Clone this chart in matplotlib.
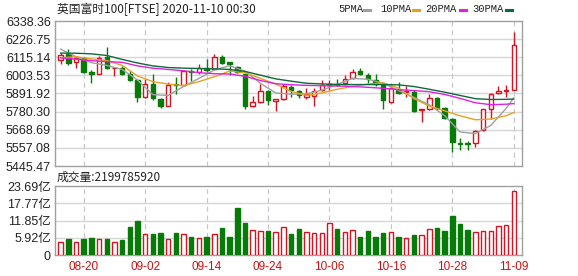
import matplotlib
matplotlib.use("Agg")
import matplotlib.pyplot as plt
from matplotlib.lines import Line2D

#%% data
dates = ['08-17', '08-18', '08-19', '08-20', '08-21', '08-24', '08-25', '08-26', '08-27', '08-28',
         '09-01', '09-02', '09-03', '09-04', '09-07', '09-08', '09-09', '09-10', '09-11', '09-14',
         '09-15', '09-16', '09-17', '09-18', '09-21', '09-22', '09-23', '09-24', '09-25', '09-28',
         '09-29', '09-30', '10-01', '10-02', '10-05', '10-06', '10-07', '10-08', '10-09', '10-12',
         '10-13', '10-14', '10-15', '10-16', '10-19', '10-20', '10-21', '10-22', '10-23', '10-26',
         '10-27', '10-28', '10-29', '10-30', '11-02', '11-03', '11-04', '11-05', '11-06', '11-09']

opens = [6096, 6134, 6088, 6110, 6022, 6014, 6114, 6046, 6052, 6012,
         5976, 5868, 5952, 5860, 5814, 5950, 5946, 6032, 6022, 6046,
         6042, 6114, 6086, 6056, 6010, 5818, 5842, 5908, 5846, 5858,
         5934, 5906, 5872, 5876, 5912, 5944, 5952, 5956, 5988, 6028,
         6008, 5978, 5946, 5838, 5916, 5904, 5900, 5790, 5794, 5864,
         5804, 5736, 5586, 5586, 5588, 5666, 5798, 5892, 5910, 5916]
highs = [6140, 6166, 6120, 6116, 6034, 6122, 6178, 6054, 6060, 6028,
         5980, 5980, 6012, 5866, 5962, 5992, 6034, 6042, 6072, 6102,
         6136, 6126, 6088, 6062, 6014, 5878, 5952, 5914, 5858, 5952,
         5942, 5916, 5926, 5926, 5978, 5978, 5982, 6008, 6044, 6050,
         6018, 6014, 5948, 5936, 5960, 5940, 5912, 5798, 5886, 5872,
         5810, 5738, 5620, 5600, 5670, 5798, 5892, 5940, 5946, 6268]
lows = [6074, 6070, 6052, 6016, 5958, 6012, 6040, 5998, 6004, 5966,
        5838, 5866, 5850, 5800, 5812, 5886, 5940, 5970, 6012, 6022,
        6038, 6074, 6008, 6016, 5796, 5810, 5836, 5820, 5786, 5850,
        5872, 5866, 5856, 5818, 5906, 5916, 5936, 5946, 5982, 6008,
        5954, 5940, 5798, 5834, 5886, 5872, 5776, 5714, 5790, 5790,
        5736, 5532, 5544, 5544, 5564, 5664, 5732, 5886, 5872, 5914]
closes = [6130, 6080, 6110, 6024, 6014, 6112, 6048, 6052, 6010, 5976,
          5872, 5950, 5862, 5812, 5946, 5944, 6028, 6022, 6046, 6038,
          6114, 6082, 6072, 6026, 5816, 5838, 5908, 5852, 5856, 5940,
          5914, 5882, 5890, 5910, 5946, 5950, 5946, 5982, 6024, 6014,
          5984, 5950, 5850, 5926, 5894, 5910, 5782, 5798, 5864, 5804,
          5742, 5592, 5582, 5580, 5660, 5794, 5890, 5910, 5916, 6192]
# volume in 亿
volumes = [4.46, 5.49, 4.46, 5.49, 5.83, 5.49, 5.49, 4.46, 5.15, 9.61,
           11.67, 7.21, 7.21, 7.55, 5.38, 7.55, 7.21, 6.18, 5.83, 6.18,
           7.21, 9.27, 6.18, 16.13, 10.98, 8.58, 8.24, 8.24, 7.89, 9.50,
           7.21, 8.92, 7.78, 7.44, 7.44, 10.87, 8.92, 7.78, 8.47, 6.18,
           8.24, 6.18, 7.55, 7.78, 6.18, 5.72, 6.86, 6.86, 8.81, 9.27,
           8.24, 13.38, 10.64, 8.58, 7.78, 8.12, 8.12, 9.95, 10.30, 22.00]

# moving averages as drawn on the chart, sampled every 2 days
ma_idx = list(range(0, 60, 2)) + [59]
ma5 = [6165, 6118, 6082, 6065, 6040, 5975, 5885, 5880, 5935, 5985,
       6037, 6063, 6029, 5955, 5895, 5888, 5890, 5912, 5948, 5985,
       5980, 5955, 5910, 5868, 5822, 5756, 5655, 5645, 5695, 5800, 5865]
ma10 = [6112, 6118, 6105, 6095, 6065, 6000, 5965, 5950, 5940, 5965,
        5995, 6030, 6020, 5985, 5950, 5905, 5880, 5895, 5918, 5935,
        5950, 5958, 5925, 5860, 5815, 5785, 5755, 5730, 5735, 5755, 5775]
ma20 = [6112, 6103, 6094, 6088, 6084, 6062, 6048, 6040, 6032, 6020,
        6014, 6012, 5998, 5972, 5952, 5946, 5942, 5940, 5938, 5935,
        5930, 5924, 5916, 5910, 5903, 5886, 5862, 5835, 5823, 5826, 5830]
ma30 = [6141, 6140, 6136, 6126, 6102, 6080, 6062, 6052, 6048, 6046,
        6044, 6040, 6028, 6005, 5982, 5968, 5955, 5951, 5948, 5947,
        5947, 5947, 5945, 5935, 5918, 5900, 5880, 5860, 5855, 5856, 5858]

tick_dates = ['08-20', '09-02', '09-14', '09-24', '10-06', '10-16', '10-28', '11-09']
price_ticks = [5445.47, 5557.08, 5668.69, 5780.30, 5891.92, 6003.53, 6115.14, 6226.75, 6338.36]
vol_ticks = [0, 5.9225, 11.845, 17.7675, 23.69]
vol_labels = ['0', '5.92亿', '11.85亿', '17.77亿', '23.69亿']

#%% style
RED = '#dd1020'
GREEN = '#087a08'
FRAME = '#a0a0a0'
GRID = '#d6d6d6'
plt.rcParams['font.family'] = ['Liberation Sans', 'Noto Sans CJK SC']

fig = plt.figure(figsize=(5.78, 2.76), dpi=100)
ax = fig.add_axes([55 / 578, 1 - 166 / 276, 467 / 578, 145 / 276])
axv = fig.add_axes([55 / 578, 1 - 255 / 276, 467 / 578, 69 / 276])

x = list(range(len(dates)))
xt = [dates.index(d) for d in tick_dates]
w = 0.58

# candles
for i in x:
    up = closes[i] >= opens[i]
    c = RED if up else GREEN
    ax.vlines(i, lows[i], highs[i], color=c, lw=1, zorder=2)
    lo = min(opens[i], closes[i])
    h = max(abs(closes[i] - opens[i]), 2)
    ax.bar(i, h, w, bottom=lo, facecolor='white' if up else GREEN,
           edgecolor=c, lw=1, zorder=3)

ax.plot(ma_idx, ma5, color='#a0a0a0', lw=1, zorder=4)
ax.plot(ma_idx, ma10, color='#e8a020', lw=1, zorder=4)
ax.plot(ma_idx, ma20, color='#e020e0', lw=1, zorder=4)
ax.plot(ma_idx, ma30, color='#0b6b3a', lw=1, zorder=4)

ax.set_ylim(price_ticks[0], price_ticks[-1])
ax.set_yticks(price_ticks)
ax.set_yticklabels(['%.2f' % p for p in price_ticks])

# volume
for i in x:
    up = closes[i] >= opens[i]
    axv.bar(i, volumes[i], w, facecolor='white' if up else GREEN,
            edgecolor=RED if up else GREEN, lw=1, zorder=3)
axv.set_ylim(0, vol_ticks[-1])
axv.set_yticks(vol_ticks)
axv.set_yticklabels(vol_labels)

for a in (ax, axv):
    a.set_xlim(-0.74, 60.07)
    a.set_xticks(xt)
    a.grid(False)
    for t in a.get_yticks()[1:-1]:
        a.axhline(t, color=GRID, lw=1, zorder=0)
    for t in xt:
        a.axvline(t, color='#c8c8c8', lw=0.9, ls=(0, (4, 3)), zorder=0)
    for s in a.spines.values():
        s.set_color(FRAME)
        s.set_linewidth(1)
    a.tick_params(length=0, labelsize=9, colors='#222222', pad=3)

ax.set_xticklabels([])
axv.set_xticklabels(tick_dates)
axv.tick_params(axis='x', colors='#d01010', labelsize=8.5, pad=4)

# header texts
fig.text(57 / 578, 1 - 9 / 276, '英国富时100[FTSE] 2020-11-10 00:30', fontsize=8.5,
         family=['Noto Sans CJK SC'], color='#222222', va='center', ha='left')
fig.text(57 / 578, 1 - 177 / 276, '成交量:2199785920', fontsize=8.5,
         family=['Noto Sans CJK SC'], color='#222222', va='center', ha='left')

# legend: (label, colour, text left px, dash left px)
legend = [('5PMA', '#a0a0a0', 338, 364), ('10PMA', '#e8a020', 380, 413),
          ('20PMA', '#e020e0', 425, 460), ('30PMA', '#0b6b3a', 472, 506)]
for name, col, px, dx in legend:
    fig.text(px / 578, 1 - 9 / 276, name, fontsize=7.6, family=['Liberation Mono'],
             color='#222222', va='center', ha='left')
    fig.add_artist(Line2D([dx / 578, (dx + 6) / 578], [1 - 9.5 / 276, 1 - 9.5 / 276],
                          color=col, lw=2.2, transform=fig.transFigure))

fig.savefig('out.png', dpi=100)
